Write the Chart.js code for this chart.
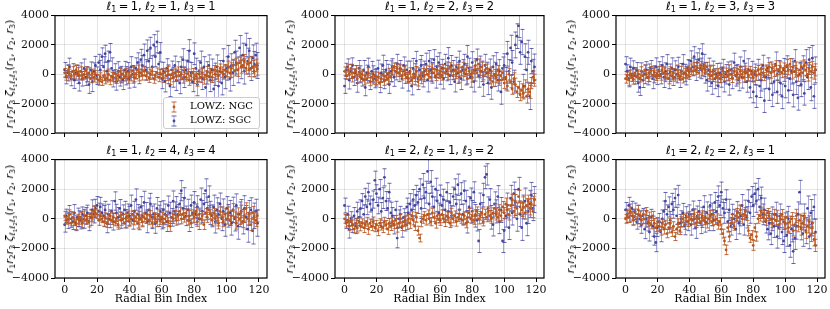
<!DOCTYPE html>
<html>
<head>
<meta charset="utf-8">
<script src="https://cdn.jsdelivr.net/npm/chart.js@4.4.1/dist/chart.umd.min.js"></script>
<style>
body { margin: 0; background: #fff; width: 830px; height: 309px; position: relative; overflow: hidden; }
canvas { position: absolute; }
.ttl { position: absolute; font-family: "DejaVu Sans"; font-size: 11.5px; line-height: 13px; text-align: center; white-space: nowrap; color: #000; }
.ttl b { font-weight: normal; margin: 0 0.2em; }
.ylab { position: absolute; font-family: "DejaVu Sans"; font-size: 11px; line-height: 12px; white-space: nowrap; color: #000; transform: translate(-50%, -50%) rotate(-90deg); }
sub { font-size: 70%; vertical-align: -0.3em; line-height: 0; font-style: normal; }
.xlab { position: absolute; font-family: "DejaVu Serif"; font-size: 11px; text-align: center; color: #000; }
.legend { position: absolute; left: 163px; top: 97px; width: 95px; height: 30px; border: 1px solid #ccc; border-radius: 3px; background: rgba(255,255,255,0.85); font-family: "DejaVu Serif"; font-size: 10px; }
.legend div { position: absolute; left: 6px; height: 14px; line-height: 14px; white-space: nowrap; }
.legend svg { vertical-align: middle; margin-right: 12px; }
</style>
</head>
<body>
<script>
// tick values and labels
const xTicks = [0, 20, 40, 60, 80, 100, 120];
const yTicks = [-4000, -2000, 0, 2000, 4000];
const yTickLabels = ['\u22124000', '\u22122000', '0', '2000', '4000'];
const ellLabels = [[1,1,1], [1,2,2], [1,3,3], [1,4,4], [2,1,2], [2,2,1]];

// l1=1, l2=1, l3=1
const ngc111 = [100,-150,250,50,-100,200,0,300,150,-50, 200,-100,0,250,-200,100,-300,50,-200,0,
  -300,-400,-200,-500,-100,-350,-250,0,-400,-150, -200,50,-300,-100,200,-250,0,-150,100,-300,
  150,-100,250,-200,0,300,-150,100,-50,200, -100,150,-250,0,200,-300,-100,100,-200,50,
  0,-250,150,-100,250,-350,0,-200,100,-150, 200,-100,0,-300,150,-200,50,-400,-100,100,
  -300,-100,-500,0,-200,100,-350,-50,200,-150, 100,-200,300,0,200,-100,400,150,0,300,
  200,500,100,400,600,250,700,300,800,500, 600,900,400,700,300,800,500,200,600,350];
const sgc111 = [300,-200,100,500,-300,200,-400,100,0,-600, 200,-300,400,-200,0,-700,300,-500,200,600,
  -100,800,300,1200,500,1400,200,900,1500,400, -300,100,-500,200,-200,0,-400,300,-100,200,
  -300,500,0,-200,400,800,100,1000,600,1300, 300,1600,900,1800,500,2000,1200,2200,700,1500,
  -300,200,-500,400,0,-800,300,-200,600,-400, 200,-600,500,1000,-200,300,900,1600,100,-500,
  1400,400,-700,200,800,-300,500,-900,100,600, -400,300,-1000,0,500,-800,200,-600,900,-200,
  400,1200,-300,600,100,1500,800,300,1800,500, 1300,200,2000,900,1600,400,1100,700,1300,600];

// l1=1, l2=2, l3=2
const ngc122 = [200,-100,300,0,400,-200,100,250,-300,150, -200,0,-400,-100,-300,100,-500,-200,-350,-100,
  -400,-200,-600,-300,0,-450,-150,-300,100,-200, 300,500,200,400,100,300,-100,200,0,-200,
  -300,100,-400,0,-200,200,-500,-100,-300,100, -100,300,0,200,-200,400,100,-100,300,0,
  200,-100,400,100,300,0,500,200,-100,300, 0,400,-200,200,500,100,300,-300,200,0,
  -200,300,600,100,700,200,500,-100,300,400, 100,-300,200,-500,0,-200,300,-400,-100,100,
  -600,-200,-800,0,-500,-1000,-300,-700,-1200,-900, -1400,-1100,-1300,-800,-1500,-1000,-1200,-600,-200,-400];
const sgc122 = [-800,300,500,-400,200,600,-200,100,-600,400, 0,-300,300,-900,100,500,-500,200,0,-300,
  -200,400,-600,100,600,-400,300,0,-700,200, 500,-200,200,700,100,400,-300,600,0,300,
  -500,200,-800,400,0,900,-300,300,600,-100, 200,700,-400,900,300,100,1000,-200,500,800,
  0,400,-300,700,200,1100,-100,600,300,-500, 500,100,900,-300,300,700,0,1200,400,-200,
  800,-500,300,1000,-100,500,200,-700,600,100, -600,300,-900,500,0,700,-400,200,-1200,400,
  600,-300,1400,200,1800,800,-500,2000,2600,3300, 1500,2200,-800,1200,300,1500,-1500,900,200,500];

// l1=1, l2=3, l3=3
const ngc133 = [-300,-100,-400,0,-200,-350,100,-150,0,-250, 200,-100,300,0,-200,100,250,-50,150,-150,
  0,200,-100,300,100,-200,0,-300,200,-100, 100,-200,300,0,-150,200,-300,100,0,250,
  150,350,200,500,300,450,100,600,250,400, 300,500,0,200,-100,300,0,-200,100,-300,
  0,200,-200,100,-100,300,0,-250,200,-50, 100,-300,200,0,-200,300,100,-100,250,0,
  -200,200,-100,300,0,400,100,-150,300,200, 500,100,400,200,600,0,300,500,100,400,
  200,600,300,700,100,500,200,400,-100,300, 500,100,600,300,0,400,200,500,100,300];
const sgc133 = [700,200,-300,500,0,400,-100,300,-600,-900, 200,-400,0,300,-200,100,400,-300,0,500,
  -100,300,0,600,-200,200,700,-300,100,400, -200,300,0,500,-300,200,700,100,-100,400,
  300,900,500,1200,300,800,1000,400,1400,600, 100,-400,300,-100,-600,200,-300,0,-800,100,
  -200,400,-500,0,200,-700,300,-300,800,-100, 0,-400,500,-200,900,100,-500,300,-900,200,
  -1200,0,-1500,300,-800,-400,600,-1800,-200,400, -1000,100,-1400,-500,700,-1200,200,-600,-1500,300,
  -800,500,-1100,-300,200,-1400,900,-500,-1600,0, -700,400,-1300,800,-200,1000,-900,1100,-1500,300];

// l1=1, l2=4, l3=4
const ngc144 = [200,-100,0,300,-300,100,-200,-400,0,-100, 100,-300,200,-100,0,-200,300,100,500,400,
  300,-100,200,0,-200,100,-300,0,200,-100, 100,-200,0,-400,200,-100,0,-300,100,200,
  -200,0,300,-100,100,-300,200,0,-200,100, 0,300,-100,200,-300,100,0,-200,300,-100,
  100,-300,0,200,-200,-500,100,0,300,-100, 200,500,0,300,100,400,-100,200,-300,300,
  100,500,-200,300,0,200,-400,400,100,600, 300,-100,400,0,200,-300,500,100,-200,300,
  0,400,-100,200,600,100,-300,300,0,500, -200,200,700,0,300,-400,400,100,-100,200];
const sgc144 = [-400,200,-100,300,0,-200,400,-300,100,0, -100,300,0,200,400,-200,100,600,300,700,
  900,500,800,400,200,600,-300,300,0,500, -200,1200,400,100,700,-100,300,600,0,400,
  200,900,-100,500,1300,300,0,800,200,1100, 400,-200,600,1000,100,300,-300,700,200,500,
  0,600,300,-200,900,400,100,1200,500,800, 300,1000,1900,700,1400,200,600,-100,900,400,
  1100,300,800,0,1300,500,1000,1900,700,1500, 400,200,800,-200,600,300,1000,0,500,-400,
  700,200,400,-300,600,0,900,-500,300,500, -200,700,100,-700,400,600,-800,200,500,-300];

// l1=2, l2=1, l3=2
const ngc212 = [0,-300,-100,-500,-200,-400,-700,-300,-600,-200, -500,-300,-600,-400,-200,-700,-300,-500,-200,-600,
  -400,-800,-300,-500,-600,-200,-400,-700,-300,-500, -200,-400,-100,-600,-300,0,-500,-200,-100,-400,
  0,-300,200,-100,-500,100,-800,-1300,-200,0, 200,-100,300,0,-200,400,100,-300,200,0,
  -100,300,0,-200,200,100,-300,400,0,200, -200,100,300,0,-100,200,-300,100,400,0,
  200,-100,300,500,0,200,400,-200,300,100, 500,200,0,400,700,300,100,600,200,800,
  400,1000,600,300,900,1300,500,1200,700,1500, 800,600,1100,400,900,1200,700,1000,500,1300];
const sgc212 = [900,-200,300,-700,0,-400,200,-500,500,100, 700,1200,300,1500,800,1800,1000,600,1300,2600,
  1700,900,2000,500,1400,2800,1200,700,1800,400, 200,-400,600,-1300,0,300,-600,100,-200,800,
  400,1000,600,1300,900,1600,1100,2000,700,2300, 1400,1800,3200,1000,2500,1500,800,2000,1200,400,
  1600,900,1300,600,1800,500,1100,200,1500,2000, 1000,2300,600,1700,300,1900,1200,-200,800,1400,
  500,1800,200,-100,-1500,1000,400,1600,2800,3000, 700,1300,100,-400,1000,500,1500,-200,600,-1500,
  -800,200,900,-600,1400,400,1700,1100,0,2000, 300,-600,800,1200,-300,500,1000,1600,700,1300];

// l1=2, l2=2, l3=1
const ngc221 = [0,300,100,500,200,-100,400,0,600,200, -100,300,0,500,-200,100,-400,200,-300,-600,
  -200,-500,-800,-300,-700,-400,-1000,-600,-300,-900, -500,-1200,-700,-300,-800,-200,0,-400,100,-200,
  200,0,-100,300,-300,100,0,-200,200,-100, 100,-300,0,200,-200,300,-100,0,-400,-200,
  -700,-1000,-1500,-2100,-600,-1200,-300,0,-500,200, 400,100,600,0,300,500,200,-800,-1300,-1100,
  -1800,-600,-1200,0,200,500,100,300,-100,400, 200,0,-300,300,-100,200,-400,0,300,-200,
  -300,100,-600,-200,0,-800,-400,200,-500,-100, -700,-300,0,-900,-500,-200,-1100,-600,-1400,-1800];
const sgc221 = [600,200,900,400,700,100,500,-200,300,0, -400,200,-700,0,-300,-900,100,-500,-1200,-1600,
  -600,-200,-900,0,500,1200,300,800,-100,1000, 600,1400,200,1600,-300,0,400,-500,200,-200,
  300,-400,600,0,-600,200,500,-300,100,800, -200,400,0,900,300,-100,1100,500,1500,900,
  1800,700,400,1300,-200,600,-500,300,0,-700, 500,-300,200,900,-400,600,100,1200,400,1500,
  900,1700,1200,2000,800,1400,300,600,-200,-700, -300,-1000,0,-500,300,-1200,-600,200,-900,-1500,
  -400,-1100,0,-1800,-700,-2200,-1300,-500,300,1800, -600,-1000,200,-800,700,-1200,400,-300,800,-900];

// 1-sigma errors per radial bin
const ngcErr = [300,250,350,300,280,320,260,340,300,270, 310,290,330,260,300,350,280,300,320,270,
  290,340,300,260,330,300,280,350,310,290, 300,270,330,300,260,340,290,310,280,320,
  300,350,270,310,290,330,300,260,340,300, 280,320,300,350,270,310,290,330,300,280,
  340,300,260,320,300,350,290,310,270,330, 300,280,340,300,320,260,310,350,290,300,
  330,270,310,300,350,290,320,280,340,300, 310,360,300,340,320,380,300,350,330,370,
  360,400,340,380,420,360,400,440,380,420, 400,450,380,420,460,400,440,380,430,410];
const sgcErr = [500,450,550,600,480,520,560,500,620,540, 580,500,640,560,520,600,540,680,580,620,
  600,560,650,600,700,580,640,680,600,720, 560,620,580,660,600,540,640,580,620,600,
  640,700,600,680,720,660,740,700,680,760, 700,740,800,720,760,700,680,740,720,660,
  680,620,700,660,640,720,600,680,640,700, 660,720,680,740,700,660,720,760,700,680,
  740,700,760,720,780,740,700,800,760,720, 780,740,800,760,820,780,740,800,840,780,
  800,760,840,800,860,820,780,880,840,800, 820,860,800,880,840,820,900,860,820,880];

const panels = [
  { ngc: ngc111, sgc: sgc111 }, { ngc: ngc122, sgc: sgc122 }, { ngc: ngc133, sgc: sgc133 },
  { ngc: ngc144, sgc: sgc144 }, { ngc: ngc212, sgc: sgc212 }, { ngc: ngc221, sgc: sgc221 }
];

const cols = [{ L: 55, R: 267 }, { L: 335, R: 544 }, { L: 616, R: 825 }];
const rows = [{ T: 15, B: 133 }, { T: 159, B: 278 }];

const ngcColor = '#b8561f', ngcBar = 'rgba(200,105,50,0.8)', ngcCap = 'rgba(180,85,35,0.9)';
const sgcColor = '#45459a', sgcBar = 'rgba(95,95,185,0.55)', sgcCap = 'rgba(70,70,160,0.85)';

const errorBars = {
  id: 'errorBars',
  beforeDatasetDraw(chart, args) {
    const ds = chart.data.datasets[args.index];
    const xs = chart.scales.x, ys = chart.scales.y, a = chart.chartArea;
    const ctx = chart.ctx;
    ctx.save();
    ctx.beginPath();
    ctx.rect(a.left, a.top, a.right - a.left, a.bottom - a.top);
    ctx.clip();
    ctx.lineWidth = 1;
    ds.data.forEach(p => {
      const x = Math.round(xs.getPixelForValue(p.x)) + 0.5;
      const y1 = ys.getPixelForValue(p.y - p.err);
      const y2 = ys.getPixelForValue(p.y + p.err);
      ctx.strokeStyle = ds.barColor;
      ctx.beginPath();
      ctx.moveTo(x, y1); ctx.lineTo(x, y2);
      ctx.stroke();
      ctx.strokeStyle = ds.capColor;
      ctx.beginPath();
      ctx.moveTo(x - 2, y1); ctx.lineTo(x + 2, y1);
      ctx.moveTo(x - 2, y2); ctx.lineTo(x + 2, y2);
      ctx.stroke();
    });
    ctx.restore();
  }
};

const frame = {
  id: 'frame',
  afterDraw(chart) {
    const a = chart.chartArea, ctx = chart.ctx;
    ctx.save();
    ctx.strokeStyle = '#000';
    ctx.lineWidth = 1.2;
    ctx.strokeRect(a.left, a.top, a.right - a.left, a.bottom - a.top);
    ctx.restore();
  }
};

function makeDataset(vals, errs, color, barColor, capColor, label) {
  return {
    label: label,
    data: vals.map((v, i) => ({ x: i, y: v, err: errs[i] })),
    backgroundColor: color,
    borderColor: color,
    barColor: barColor,
    capColor: capColor,
    pointRadius: 1.4,
    pointBorderWidth: 0,
    showLine: false
  };
}

function ellHtml(e) {
  return e.map((v, i) => '<i>\u2113</i><sub>' + (i + 1) + '</sub><b>=</b>' + v).join(', ');
}

const padT = 8, padR = 6, yW = 50, xH = 25;

panels.forEach((p, k) => {
  const c = cols[k % 3], r = rows[Math.floor(k / 3)];
  const bottomRow = k >= 3;
  const cv = document.createElement('canvas');
  const w = c.R - c.L + yW + padR, h = r.B - r.T + padT + xH;
  cv.width = w; cv.height = h;
  cv.style.left = (c.L - yW) + 'px';
  cv.style.top = (r.T - padT) + 'px';
  cv.style.width = w + 'px'; cv.style.height = h + 'px';
  document.body.appendChild(cv);

  new Chart(cv, {
    type: 'scatter',
    data: {
      datasets: [
        makeDataset(p.ngc, ngcErr, ngcColor, ngcBar, ngcCap, 'LOWZ: NGC'),
        makeDataset(p.sgc, sgcErr, sgcColor, sgcBar, sgcCap, 'LOWZ: SGC')
      ]
    },
    options: {
      responsive: false,
      animation: false,
      devicePixelRatio: 1,
      layout: { padding: { top: padT, right: padR, left: 0, bottom: 0 } },
      plugins: { legend: { display: false }, tooltip: { enabled: false } },
      scales: {
        x: {
          type: 'linear', min: -5.95, max: 124.95,
          afterBuildTicks: s => { s.ticks = xTicks.map(v => ({ value: v })); },
          afterFit: s => { s.height = xH; },
          grid: { color: 'rgba(0,0,0,0.1)', tickColor: '#000', tickLength: 4 },
          border: { display: false },
          ticks: {
            padding: 2, color: '#111', maxRotation: 0,
            font: { family: 'DejaVu Serif', size: 11 },
            callback: v => bottomRow ? String(v) : ''
          }
        },
        y: {
          type: 'linear', min: -4000, max: 4000,
          afterBuildTicks: s => { s.ticks = yTicks.map(v => ({ value: v })); },
          afterFit: s => { s.width = yW; },
          grid: { color: 'rgba(0,0,0,0.1)', tickColor: '#000', tickLength: 4 },
          border: { display: false },
          ticks: {
            padding: 2, color: '#111',
            font: { family: 'DejaVu Serif', size: 11 },
            callback: v => yTickLabels[yTicks.indexOf(v)]
          }
        }
      }
    },
    plugins: [errorBars, frame]
  });

  const t = document.createElement('div');
  t.className = 'ttl';
  t.style.left = c.L + 'px';
  t.style.width = (c.R - c.L) + 'px';
  t.style.top = (r.T - 15) + 'px';
  t.innerHTML = ellHtml(ellLabels[k]);
  document.body.appendChild(t);

  const yl = document.createElement('div');
  yl.className = 'ylab';
  yl.style.left = (c.L - 45) + 'px';
  yl.style.top = ((r.T + r.B) / 2) + 'px';
  yl.innerHTML = '<i>r</i><sub>1</sub><i>r</i><sub>2</sub><i>r</i><sub>3</sub> <i>\u03b6</i><sub><i>\u2113</i><sub>1</sub><i>\u2113</i><sub>2</sub><i>\u2113</i><sub>3</sub></sub>(<i>r</i><sub>1</sub>, <i>r</i><sub>2</sub>, <i>r</i><sub>3</sub>)';
  document.body.appendChild(yl);

  if (bottomRow) {
    const xl = document.createElement('div');
    xl.className = 'xlab';
    xl.style.left = c.L + 'px';
    xl.style.width = (c.R - c.L) + 'px';
    xl.style.top = '292px';
    xl.textContent = 'Radial Bin Index';
    document.body.appendChild(xl);
  }
});

// legend in the first panel
const lg = document.createElement('div');
lg.className = 'legend';
const glyph = (col, bar, cap) => '<svg width="8" height="12"><line x1="4" y1="1" x2="4" y2="11" stroke="' + bar + '"/>' +
  '<line x1="1.5" y1="1" x2="6.5" y2="1" stroke="' + cap + '"/><line x1="1.5" y1="11" x2="6.5" y2="11" stroke="' + cap + '"/>' +
  '<circle cx="4" cy="6" r="1.4" fill="' + col + '"/></svg>';
lg.innerHTML = '<div style="top:1px">' + glyph(ngcColor, ngcBar, ngcCap) + 'LOWZ: NGC</div>' +
  '<div style="top:15px">' + glyph(sgcColor, sgcBar, sgcCap) + 'LOWZ: SGC</div>';
document.body.appendChild(lg);
</script>
</body>
</html>
